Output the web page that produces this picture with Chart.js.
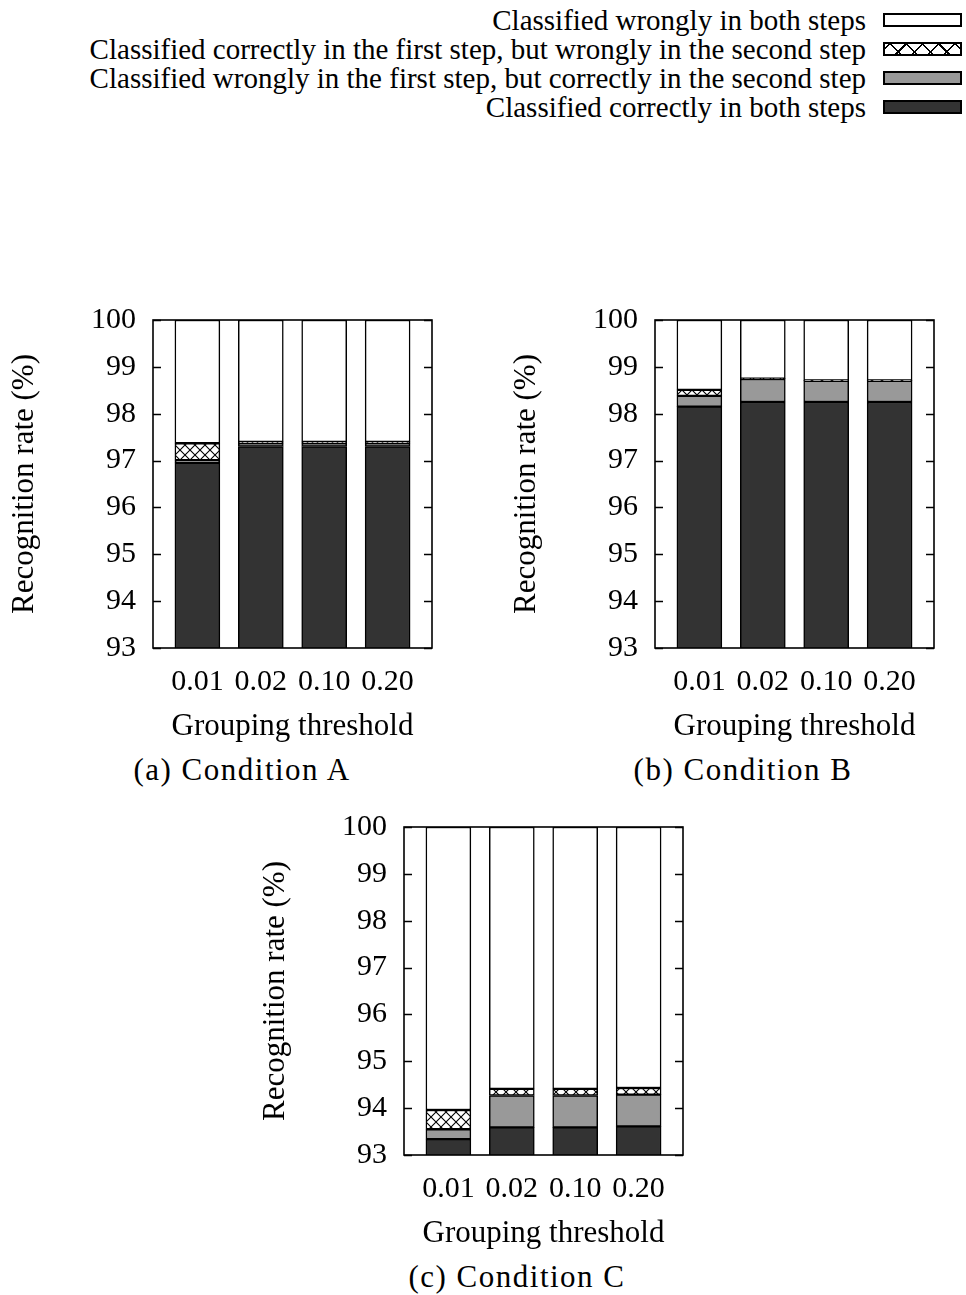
<!DOCTYPE html>
<html><head><meta charset="utf-8">
<script src="https://cdn.jsdelivr.net/npm/chart.js@4/dist/chart.umd.min.js"></script>
<style>
html,body{margin:0;padding:0;background:#fff;}
body{width:966px;height:1295px;position:relative;overflow:hidden;font-family:"Liberation Serif","Times New Roman",serif;color:#000;}
canvas{position:absolute;}
.lg-text{position:absolute;right:100px;font-size:29px;line-height:30px;white-space:nowrap;}
.lg-box{position:absolute;left:883px;width:75px;height:10px;border:2.5px solid #000;}
.caption{position:absolute;font-size:31px;letter-spacing:1.5px;white-space:nowrap;transform:translateX(-50%);line-height:32px;}
</style></head>
<body>
<div id="legend"></div>
<canvas id="cA" width="483" height="450" style="left:0px;top:300px"></canvas>
<canvas id="cB" width="483" height="450" style="left:502px;top:300px"></canvas>
<canvas id="cC" width="483" height="450" style="left:251px;top:807px"></canvas>
<div class="caption" style="left:242px;top:754px">(a) Condition A</div>
<div class="caption" style="left:743px;top:754px">(b) Condition B</div>
<div class="caption" style="left:517px;top:1261px">(c) Condition C</div>
<script>
// ---- data ----
const categories = ['0.01', '0.02', '0.10', '0.20'];
const seriesNames = [
  'Classified correctly in both steps',
  'Classified wrongly in the first step, but correctly in the second step',
  'Classified correctly in the first step, but wrongly in the second step',
  'Classified wrongly in both steps'
];
const yTicks = [93, 94, 95, 96, 97, 98, 99, 100];
// segment sizes (%) for each grouping threshold
const condA_correctBoth          = [96.95, 97.30, 97.30, 97.30];
const condA_wrongFirstRightSecond = [0.06, 0.07, 0.07, 0.07];
const condA_rightFirstWrongSecond = [0.36, 0.03, 0.03, 0.03];
const condA_wrongBoth            = [2.63, 2.60, 2.60, 2.60];

const condB_correctBoth          = [98.15, 98.25, 98.25, 98.25];
const condB_wrongFirstRightSecond = [0.23, 0.49, 0.45, 0.45];
const condB_rightFirstWrongSecond = [0.13, 0.01, 0.01, 0.01];
const condB_wrongBoth            = [1.49, 1.25, 1.29, 1.29];

const condC_correctBoth          = [93.34, 93.59, 93.59, 93.61];
const condC_wrongFirstRightSecond = [0.21, 0.68, 0.68, 0.68];
const condC_rightFirstWrongSecond = [0.41, 0.14, 0.14, 0.14];
const condC_wrongBoth            = [6.04, 5.59, 5.59, 5.57];

// ---- styles ----
const DARK = '#333333', GRAY = '#999999';
function hatchPattern(){
  const c = document.createElement('canvas'); c.width = 10; c.height = 10;
  const x = c.getContext('2d');
  x.fillStyle = '#fff'; x.fillRect(0,0,10,10);
  x.strokeStyle = '#000'; x.lineWidth = 1.1;
  x.beginPath(); x.moveTo(-1,-1); x.lineTo(11,11); x.moveTo(11,-1); x.lineTo(-1,11); x.stroke();
  return x.createPattern(c, 'repeat');
}
const HATCH = hatchPattern();
const fills = [DARK, GRAY, HATCH, '#ffffff'];

// ---- legend (HTML) ----
const legendOrder = [3, 2, 1, 0];
const lg = document.getElementById('legend');
legendOrder.forEach((si, row) => {
  const cy = 20 + row * 29;
  const t = document.createElement('div'); t.className = 'lg-text';
  t.style.top = (cy - 15) + 'px'; t.textContent = seriesNames[si]; lg.appendChild(t);
  const b = document.createElement('div'); b.className = 'lg-box';
  b.style.top = (cy - 7) + 'px';
  if (si === 2) {
    b.style.backgroundImage = 'repeating-linear-gradient(45deg,transparent 0 10px,#000 10px 11.5px),repeating-linear-gradient(-45deg,transparent 0 10px,#000 10px 11.5px)';
    b.style.backgroundColor = '#fff';
  } else b.style.background = fills[si];
  lg.appendChild(b);
});

// ---- plugin: frame and inward ticks ----
const framePlugin = {
  id: 'frame',
  beforeDatasetsDraw(chart){
    const {ctx, chartArea:a, scales:{y}} = chart;
    ctx.save(); ctx.strokeStyle = '#000'; ctx.lineWidth = 1.5; ctx.beginPath();
    y.ticks.forEach(t => { const py = Math.round(y.getPixelForValue(t.value)) + 0.5;
      ctx.moveTo(a.left, py); ctx.lineTo(a.left + 8, py);
      ctx.moveTo(a.right, py); ctx.lineTo(a.right - 8, py); });
    ctx.stroke(); ctx.restore();
  },
  afterDatasetsDraw(chart){
    const {ctx, chartArea:a} = chart;
    ctx.save(); ctx.strokeStyle = '#000'; ctx.lineWidth = 1.6;
    ctx.strokeRect(a.left, a.top, a.right - a.left, a.bottom - a.top);
    ctx.restore();
  }
};

const FONT = {family: '"Liberation Serif","Times New Roman",serif', size: 30};
const TFONT = {family: '"Liberation Serif","Times New Roman",serif', size: 31};

function makeChart(id, segs){
  const datasets = segs.map((arr, si) => ({
    label: seriesNames[si],
    data: arr.map((v, i) => ({x: i, y: v})),
    backgroundColor: fills[si],
    borderColor: '#000', borderWidth: 1.5, borderSkipped: false,
    barThickness: 45
  }));
  return new Chart(document.getElementById(id), {
    type: 'bar',
    data: {datasets},
    plugins: [framePlugin],
    options: {
      responsive: false, animation: false, devicePixelRatio: 1,
      layout: {padding: {top: 20, right: 51, left: 0, bottom: 0}},
      plugins: {legend: {display: false}, tooltip: {enabled: false}},
      scales: {
        x: {
          type: 'linear', stacked: true, min: -0.7, max: 3.7, offset: false,
          grid: {display: false, drawTicks: false}, border: {display: false},
          afterBuildTicks: s => { s.ticks = categories.map((c, i) => ({value: i})); },
          afterFit: s => { s.height = 102; s.paddingLeft = 0; s.paddingRight = 0; },
          ticks: {font: FONT, color: '#000', padding: 16, maxRotation: 0, autoSkip: false,
                  callback: v => categories[v]},
          title: {display: true, text: 'Grouping threshold', font: TFONT, color: '#000', padding: {top: 0, bottom: 5}}
        },
        y: {
          stacked: true, min: 93, max: 100,
          grid: {display: false, drawTicks: false}, border: {display: false},
          afterBuildTicks: s => { s.ticks = yTicks.map(v => ({value: v})); },
          afterFit: s => { s.width = 153; s.paddingTop = 0; s.paddingBottom = 0; },
          ticks: {font: FONT, color: '#000', padding: 17},
          title: {display: true, text: 'Recognition rate (%)', font: TFONT, color: '#000', padding: {top: 6, bottom: 0}}
        }
      }
    }
  });
}

makeChart('cA', [condA_correctBoth, condA_wrongFirstRightSecond, condA_rightFirstWrongSecond, condA_wrongBoth]);
makeChart('cB', [condB_correctBoth, condB_wrongFirstRightSecond, condB_rightFirstWrongSecond, condB_wrongBoth]);
makeChart('cC', [condC_correctBoth, condC_wrongFirstRightSecond, condC_rightFirstWrongSecond, condC_wrongBoth]);
</script>
</body></html>
